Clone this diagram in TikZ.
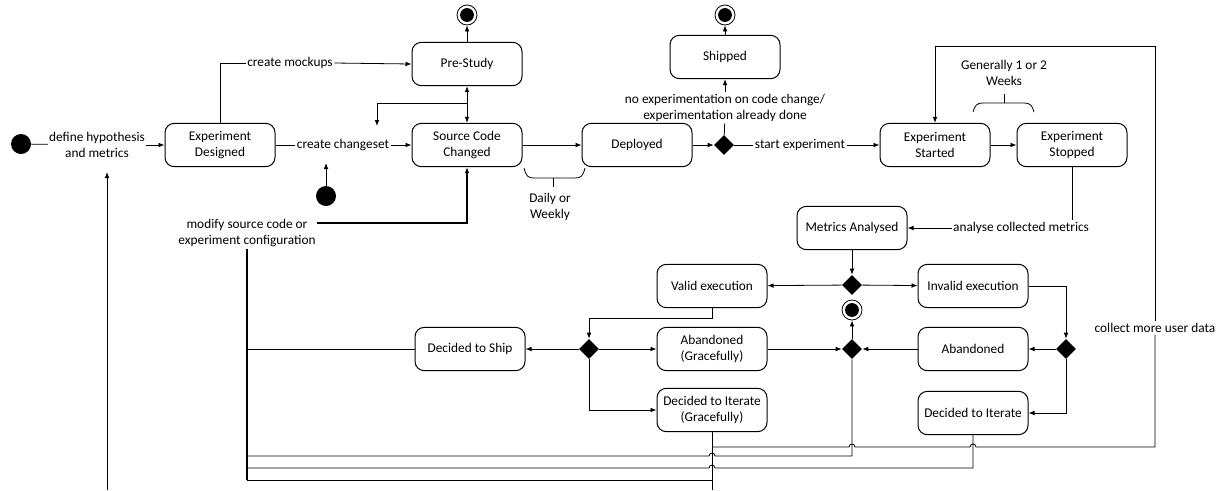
\documentclass[tikz,border=0pt]{standalone}
\usepackage{fontspec}
\setmainfont{Carlito}
\usetikzlibrary{arrows.meta,shapes.geometric}

\begin{document}
\begin{tikzpicture}[x=0.75pt,y=0.75pt,yscale=-1,xscale=1,
  font=\fontsize{10}{11.5}\selectfont,
  state/.style={draw, line width=0.75pt, rounded corners=7pt, minimum width=82.5pt, minimum height=32.5pt, align=center, inner sep=1pt},
  lbl/.style={align=center, inner xsep=1pt, inner ysep=1.5pt},
  initial/.style={circle, fill, minimum size=15pt, inner sep=0pt},
  final/.style={circle, draw, line width=0.6pt, minimum size=15pt, inner sep=0pt, path picture={\fill (path picture bounding box.center) circle (5.2pt);}},
  choice/.style={diamond, fill, minimum size=15pt, inner sep=0pt, aspect=1},
  link/.style={line width=0.6pt},
  flow/.style={link, -{Latex[length=4.5pt,width=3.5pt]}},
  heavy/.style={line width=1.1pt}
]
\useasboundingbox (0,0) rectangle (1221,490);

\node[initial] (init1) at (21,144) {};
\node[lbl] (hyp) at (97,145) {define hypothesis\\and metrics};
\node[state] (expdes) at (220,145) {Experiment\\Designed};
\node[lbl] (mock) at (290,63) {create mockups};
\node[state] (prestudy) at (467,64) {Pre-Study};
\node[final] (end1) at (467,15) {};
\node[lbl] (chg) at (343,145) {create changeset};
\node[state] (scc) at (467,145) {Source Code\\Changed};
\node[initial] (init2) at (326,196) {};
\node[lbl] (modify) at (247,233) {modify source code or\\experiment configuration};
\node[state] (deployed) at (637,145) {Deployed};
\node[lbl] (daily) at (550,207) {Daily or\\Weekly};
\node[choice] (gate) at (724,145) {};
\node[lbl] (noexp) at (725,108) {no experimentation on code change/\\experimentation already done};
\node[state] (shipped) at (725,57) {Shipped};
\node[final] (end2) at (725,15) {};
\node[lbl] (startexp) at (800,145) {start experiment};
\node[state] (started) at (935,145) {Experiment\\Started};
\node[state] (stopped) at (1072,145) {Experiment\\Stopped};
\node[lbl] (weeks) at (1004,73) {Generally 1 or 2\\Weeks};
\node[lbl] (analyse) at (1021,228) {analyse collected metrics};
\node[state] (metrics) at (852,228) {Metrics Analysed};
\node[choice] (check) at (852,285) {};
\node[state] (valid) at (712,286) {Valid execution};
\node[state] (invalid) at (973,286) {Invalid execution};
\node[final] (end3) at (852,310) {};
\node[choice] (decide) at (589,349) {};
\node[choice] (merge) at (852,349) {};
\node[choice] (retry) at (1066,349) {};
\node[state] (ship) at (470,349) {Decided to Ship};
\node[state] (abandg) at (712,349) {Abandoned\\(Gracefully)};
\node[state] (aband) at (973,349) {Abandoned};
\node[state] (iterg) at (712,410) {Decided to Iterate\\(Gracefully)};
\node[state] (iter) at (973,413) {Decided to Iterate};
\node[lbl] (collect) at (1155,328) {collect more user data};

\coordinate (split) at (467,103);
\coordinate (back) at (377,126);
\coordinate (chgin) at (326,163);
\coordinate (hypin) at (107,172);
\coordinate (loop) at (1155,46);

\draw[link] (init1) -- (hyp);
\draw[flow] (hyp) -- (expdes);
\draw[link] (expdes.north) |- (mock.west);
\draw[flow] (mock.east) -- (prestudy.west);
\draw[flow] (prestudy) -- (end1);
\draw[link] (expdes) -- (chg);
\draw[flow] (chg) -- (scc);
\draw[link, {Latex[length=4.5pt,width=3.5pt]}-{Latex[length=4.5pt,width=3.5pt]}] (prestudy) -- (scc);
\draw[flow] (split) -| (back);
\draw[flow] (init2) -- (chgin);
\draw[flow, heavy] (modify.east |- 0,223) -| (scc.south);
\draw[heavy] (modify.south) -- (247,480);
\draw[link] (ship.west) -- (ship.west -| modify.south);

\draw[flow] (scc) -- (deployed);
\draw[link] (524,168) .. controls (526,176) and (528,178) .. (534,178) -- (575,178) .. controls (581,178) and (583,176) .. (585,168);
\draw[link] (553,178) -- (553,187);
\draw[flow] (deployed) -- (gate);
\draw[link] (gate) -- (startexp);
\draw[flow] (startexp) -- (started);
\draw[link] (gate) -- (noexp);
\draw[flow] (noexp) -- (shipped);
\draw[flow] (shipped) -- (end2);
\draw[flow] (started) -- (stopped);
\draw[link] (973,112) .. controls (975,105) and (977,103) .. (983,103) -- (1024,103) .. controls (1030,103) and (1032,105) .. (1034,112);
\draw[link] (1004,103) -- (1004,94);

\draw[link] (stopped.south) -- (stopped.south |- analyse.north);
\draw[flow] (analyse) -- (metrics);
\draw[flow] (metrics) -- (check);
\draw[flow] (check) -- (valid);
\draw[flow] (check) -- (invalid);
\draw[flow] (valid.south) -- ++(0,10) -| (decide.north);
\draw[flow] (invalid.east) -| (retry.north);
\draw[flow] (decide) -- (ship);
\draw[flow] (decide) -- (abandg);
\draw[flow] (decide.south) |- (iterg.west);
\draw[flow] (abandg) -- (merge);
\draw[flow] (aband) -- (merge);
\draw[flow] (merge) -- (end3);
\draw[flow] (retry) -- (aband);
\draw[flow] (retry.south) |- (iter.east);

\draw[link] (iterg.south) -- (712,490);
\draw[link] (247,456) -- (709,456) arc[start angle=180,end angle=360,radius=3] -| (merge.south);
\draw[link] (247,468) -- (709,468) arc[start angle=180,end angle=360,radius=3] -| (iter.south);
\draw[link] (247,480) -- (712,480);
\draw[link] (712,447) -- (849,447) arc[start angle=180,end angle=360,radius=3] -- (970,447) arc[start angle=180,end angle=360,radius=3] -- (1155,447) -- (collect.south);
\draw[flow] (collect.north) -- (loop) -| (started.north);
\draw[flow] (107,490) -- (hypin);
\end{tikzpicture}
\end{document}
